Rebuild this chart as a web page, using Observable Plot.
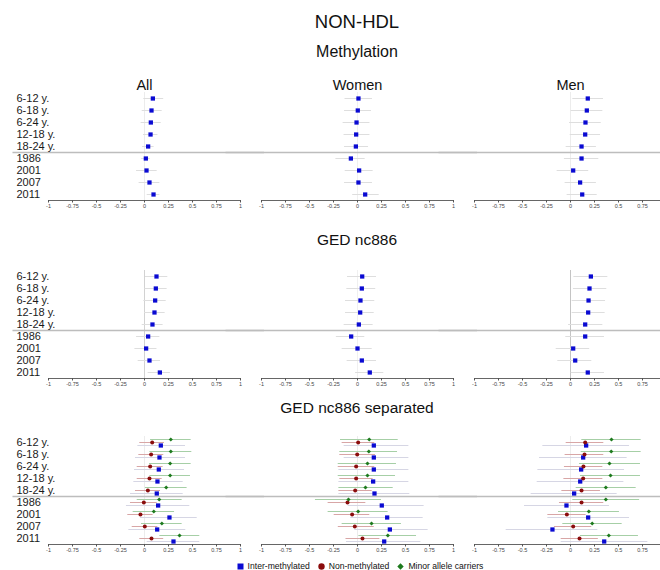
<!DOCTYPE html>
<html><head><meta charset="utf-8">
<script src="https://cdn.jsdelivr.net/npm/d3@7"></script>
<script src="https://cdn.jsdelivr.net/npm/@observablehq/plot@0.6"></script>
<style>
html,body{margin:0;padding:0;overflow:hidden;background:#fff;}
#root{position:relative;width:660px;height:570px;overflow:hidden;font-family:"Liberation Sans",Arial,sans-serif;color:#111;}
.t{position:absolute;left:48px;width:618px;text-align:center;transform:translateY(-50%);white-space:nowrap;line-height:1;}
.sec{position:absolute;left:0;}
.legend{position:absolute;left:0;width:720px;top:566px;transform:translateY(-50%);display:flex;justify-content:center;align-items:center;font-size:8.6px;color:#111;}
.legend span.item{display:flex;align-items:center;margin:0 4px;}
.legend svg{margin-right:4px;}
</style></head><body><div id="root"></div>
<script>
// ---------- data ----------
const rowLabels = ["6-12 y.","6-18 y.","6-24 y.","12-18 y.","18-24 y.","1986","2001","2007","2011"];
const panels = ["All","Women","Men"];
const xTicks = [-1,-0.75,-0.5,-0.25,0,0.25,0.5,0.75,1];
// tick labels that are visible in each panel (the Men panel is cut before 1)
const tickLabelsAll   = [-1,-0.75,-0.5,-0.25,0,0.25,0.5,0.75,1];
const tickLabelsWomen = [-1,-0.75,-0.5,-0.25,0,0.25,0.5,0.75,1];
const tickLabelsMen   = [-1,-0.75,-0.5,-0.25,0,0.25,0.5,0.75];
const seriesNames = ["Inter-methylated","Non-methylated","Minor allele carriers"];

// Methylation
const meth_all_est   = [0.087,0.073,0.066,0.063,0.038,0.014,0.021,0.052,0.094];
const meth_all_lo    = [-0.007,-0.024,-0.035,-0.010,-0.020,-0.030,-0.083,-0.056,0.028];
const meth_all_hi    = [0.200,0.184,0.174,0.140,0.100,0.060,0.132,0.160,0.160];
const meth_women_est = [0.010,0.003,-0.010,-0.014,-0.017,-0.069,0.017,0.010,0.080];
const meth_women_lo  = [-0.130,-0.135,-0.150,-0.140,-0.135,-0.225,-0.128,-0.135,-0.050];
const meth_women_hi  = [0.156,0.146,0.130,0.130,0.115,0.080,0.163,0.156,0.226];
const meth_men_est   = [0.180,0.170,0.156,0.153,0.115,0.115,0.028,0.100,0.122];
const meth_men_lo    = [0.024,0.007,-0.010,-0.003,-0.045,-0.063,-0.139,-0.056,-0.035];
const meth_men_hi    = [0.344,0.337,0.320,0.313,0.270,0.295,0.190,0.270,0.278];

// GED nc886
const ged_all_est   = [0.125,0.118,0.111,0.104,0.083,0.038,0.017,0.052,0.160];
const ged_all_lo    = [0.010,0.003,-0.007,0.000,-0.024,-0.083,-0.100,-0.066,0.038];
const ged_all_hi    = [0.243,0.236,0.226,0.215,0.194,0.160,0.130,0.167,0.270];
const ged_women_est = [0.049,0.045,0.031,0.028,0.014,-0.066,0.000,0.045,0.128];
const ged_women_lo  = [-0.104,-0.111,-0.125,-0.125,-0.139,-0.220,-0.160,-0.108,-0.020];
const ged_women_hi  = [0.198,0.190,0.180,0.174,0.163,0.076,0.153,0.198,0.274];
const ged_men_est   = [0.212,0.198,0.188,0.184,0.153,0.153,0.028,0.049,0.180];
const ged_men_lo    = [0.035,0.031,0.017,0.017,-0.020,-0.049,-0.149,-0.132,0.007];
const ged_men_hi    = [0.389,0.378,0.365,0.361,0.337,0.354,0.200,0.222,0.354];

// GED nc886 separated
const sep_all_inter_est = [0.170,0.156,0.149,0.135,0.128,0.142,0.260,0.132,0.302];
const sep_all_inter_lo  = [-0.069,-0.094,-0.104,-0.111,-0.146,-0.188,-0.042,-0.163,0.028];
const sep_all_inter_hi  = [0.427,0.427,0.417,0.403,0.403,0.472,0.549,0.430,0.576];
const sep_all_non_est   = [0.080,0.069,0.059,0.052,0.035,-0.007,-0.042,0.003,0.073];
const sep_all_non_lo    = [-0.049,-0.059,-0.076,-0.076,-0.094,-0.146,-0.174,-0.128,-0.049];
const sep_all_non_hi    = [0.208,0.201,0.194,0.184,0.167,0.132,0.090,0.139,0.200];
const sep_all_minor_est = [0.274,0.274,0.267,0.267,0.226,0.153,0.097,0.181,0.365];
const sep_all_minor_lo  = [0.063,0.056,0.052,0.056,0.010,-0.076,-0.118,-0.031,0.160];
const sep_all_minor_hi  = [0.486,0.493,0.486,0.479,0.444,0.392,0.313,0.392,0.576];

const sep_women_inter_est = [0.170,0.170,0.170,0.163,0.177,0.253,0.309,0.337,0.278];
const sep_women_inter_lo  = [-0.139,-0.139,-0.194,-0.194,-0.194,-0.097,-0.070,-0.028,-0.115];
const sep_women_inter_hi  = [0.535,0.535,0.535,0.535,0.545,0.694,0.684,0.736,0.660];
const sep_women_non_est   = [0.007,-0.003,-0.014,-0.014,-0.024,-0.104,-0.056,-0.028,0.052];
const sep_women_non_lo    = [-0.160,-0.184,-0.201,-0.184,-0.194,-0.306,-0.243,-0.200,-0.120];
const sep_women_non_hi    = [0.180,0.188,0.180,0.163,0.153,0.087,0.128,0.174,0.233];
const sep_women_minor_est = [0.122,0.118,0.104,0.104,0.083,-0.094,0.007,0.146,0.316];
const sep_women_minor_lo  = [-0.177,-0.184,-0.201,-0.201,-0.194,-0.438,-0.306,-0.160,0.014];
const sep_women_minor_hi  = [0.424,0.417,0.406,0.396,0.372,0.250,0.319,0.458,0.615];

const sep_men_inter_est = [0.163,0.132,0.111,0.101,0.038,-0.042,0.184,-0.188,0.351];
const sep_men_inter_lo  = [-0.288,-0.323,-0.340,-0.347,-0.410,-0.479,-0.236,-0.670,-0.097];
const sep_men_inter_hi  = [0.615,0.590,0.563,0.556,0.486,0.406,0.615,0.285,0.806];
const sep_men_non_est   = [0.153,0.146,0.135,0.132,0.115,0.115,-0.038,0.028,0.094];
const sep_men_non_lo    = [-0.045,-0.056,-0.063,-0.069,-0.090,-0.115,-0.236,-0.167,-0.097];
const sep_men_non_hi    = [0.347,0.347,0.337,0.337,0.312,0.347,0.163,0.222,0.290];
const sep_men_minor_est = [0.427,0.424,0.406,0.417,0.368,0.368,0.191,0.226,0.399];
const sep_men_minor_lo  = [0.118,0.111,0.094,0.104,0.059,0.024,-0.125,-0.080,0.104];
const sep_men_minor_hi  = [0.736,0.736,0.729,0.729,0.684,0.720,0.510,0.538,0.708];

// ---------- build tables ----------
function rec(panel, series, est, lo, hi) {
  return rowLabels.map((label, i) => ({panel, series, label, row: i, est: est[i], lo: lo[i], hi: hi[i]}));
}
const methRows = [
  ...rec("All", seriesNames[0], meth_all_est, meth_all_lo, meth_all_hi),
  ...rec("Women", seriesNames[0], meth_women_est, meth_women_lo, meth_women_hi),
  ...rec("Men", seriesNames[0], meth_men_est, meth_men_lo, meth_men_hi)
];
const gedRows = [
  ...rec("All", seriesNames[0], ged_all_est, ged_all_lo, ged_all_hi),
  ...rec("Women", seriesNames[0], ged_women_est, ged_women_lo, ged_women_hi),
  ...rec("Men", seriesNames[0], ged_men_est, ged_men_lo, ged_men_hi)
];
const sepRows = [
  ...rec("All", seriesNames[0], sep_all_inter_est, sep_all_inter_lo, sep_all_inter_hi),
  ...rec("All", seriesNames[1], sep_all_non_est, sep_all_non_lo, sep_all_non_hi),
  ...rec("All", seriesNames[2], sep_all_minor_est, sep_all_minor_lo, sep_all_minor_hi),
  ...rec("Women", seriesNames[0], sep_women_inter_est, sep_women_inter_lo, sep_women_inter_hi),
  ...rec("Women", seriesNames[1], sep_women_non_est, sep_women_non_lo, sep_women_non_hi),
  ...rec("Women", seriesNames[2], sep_women_minor_est, sep_women_minor_lo, sep_women_minor_hi),
  ...rec("Men", seriesNames[0], sep_men_inter_est, sep_men_inter_lo, sep_men_inter_hi),
  ...rec("Men", seriesNames[1], sep_men_non_est, sep_men_non_lo, sep_men_non_hi),
  ...rec("Men", seriesNames[2], sep_men_minor_est, sep_men_minor_lo, sep_men_minor_hi)
];
const tickLabelRows = [
  ...tickLabelsAll.map(v => ({panel: "All", v})),
  ...tickLabelsWomen.map(v => ({panel: "Women", v})),
  ...tickLabelsMen.map(v => ({panel: "Men", v}))
];

// ---------- styles ----------
const seriesStyle = {
  "Inter-methylated":      {fill: "#0a0ad2", ci: "#d6d6e4", symbol: "square",   r: 2.4, dy: 3},
  "Non-methylated":        {fill: "#8a0c0c", ci: "#d8a6a6", symbol: "circle",   r: 2.0, dy: 0},
  "Minor allele carriers": {fill: "#1d7a1d", ci: "#a6cfa6", symbol: "diamond2", r: 1.9, dy: -3}
};

const root = document.getElementById("root");
function addText(txt, y, size) {
  const d = document.createElement("div");
  d.className = "t"; d.textContent = txt;
  d.style.top = y + "px"; d.style.fontSize = size + "px";
  root.appendChild(d);
}

function section(records, {top, marginTop, headers, zeroStroke, single}) {
  const n = rowLabels.length;
  const frameH = 108, marginBottom = 18;
  const names = single ? [seriesNames[0]] : seriesNames;
  const marks = [
    Plot.ruleX(panels, {x: () => 0, fx: d => d, stroke: d => zeroStroke[d], strokeWidth: 1}),
    Plot.ruleY(panels, {y: () => rowLabels.indexOf("1986") - 0.5, fx: d => d, x1: -1.37, x2: 1.25, stroke: "#bdbdbd", strokeWidth: 1.6}),
    Plot.ruleY(panels, {y: () => n - 0.5, fx: d => d, stroke: "#666", strokeWidth: 1}),
    Plot.axisX({ticks: xTicks, tickSize: 2.5, tickFormat: () => "", stroke: "#555", label: null}),
    Plot.text(tickLabelRows, {x: "v", fx: "panel", text: d => String(d.v), frameAnchor: "bottom", dy: 7.5, fontSize: 5.5, fill: "#444"})
  ];
  for (const s of names) {
    const st = seriesStyle[s];
    const data = records.filter(r => r.series === s);
    marks.push(Plot.ruleY(data, {y: "row", x1: "lo", x2: "hi", fx: "panel", stroke: single ? "#dedede" : st.ci, strokeWidth: 1, dy: single ? 0 : st.dy}));
  }
  for (const s of names) {
    const st = seriesStyle[s];
    const data = records.filter(r => r.series === s);
    marks.push(Plot.dot(data, {x: "est", y: "row", fx: "panel", symbol: st.symbol, r: st.r, fill: st.fill, stroke: "none", dy: single ? 0 : st.dy}));
  }
  marks.push(Plot.text(rowLabels.map((label, i) => ({label, row: i, panel: "All"})),
    {y: "row", fx: "panel", text: "label", frameAnchor: "left", textAnchor: "start", dx: -32, fontSize: 11, fill: "#1a1a1a"}));
  if (headers) {
    marks.push(Plot.text(panels, {fx: d => d, text: d => d, frameAnchor: "top", dy: -13, fontSize: 14.5, fill: "#111"}));
  }
  const chart = Plot.plot({
    width: 666, height: marginTop + frameH + marginBottom,
    marginLeft: 48, marginRight: 0, marginTop, marginBottom,
    fx: {domain: panels, paddingInner: 0.0986, paddingOuter: 0, axis: null, label: null},
    x: {domain: [-1, 1], axis: null},
    y: {domain: [-0.5, n - 0.5], reverse: true, axis: null},
    color: {type: "identity"},
    style: {fontSize: "5.5px", fontFamily: "'Liberation Sans', Arial, sans-serif", color: "#444", background: "transparent", maxWidth: "none", overflow: "visible"},
    marks
  });
  const wrap = document.createElement("div");
  wrap.className = "sec"; wrap.style.top = top + "px";
  wrap.appendChild(chart);
  root.appendChild(wrap);
}

addText("NON-HDL", 22, 18.5);
addText("Methylation", 52, 16);
section(methRows, {top: 60, marginTop: 32, headers: true, single: true, zeroStroke: {All: "#ececec", Women: "#f0f0f0", Men: "#ececec"}});
addText("GED nc886", 240, 15.5);
section(gedRows, {top: 262, marginTop: 8, headers: false, single: true, zeroStroke: {All: "#d2d2d2", Women: "#f0f0f0", Men: "#c4c4c4"}});
addText("GED nc886 separated", 408, 15.5);
section(sepRows, {top: 428, marginTop: 8, headers: false, single: false, zeroStroke: {All: "#ececec", Women: "#ececec", Men: "#ececec"}});

// legend
const leg = document.createElement("div");
leg.className = "legend";
const shapes = {
  square: '<rect x="0.5" y="0.5" width="6" height="6"/>',
  circle: '<circle cx="3.5" cy="3.5" r="3.2"/>',
  diamond2: '<path d="M3.5,0.3 L6.7,3.5 L3.5,6.7 L0.3,3.5Z"/>'
};
for (const s of seriesNames) {
  const st = seriesStyle[s];
  const item = document.createElement("span");
  item.className = "item";
  item.innerHTML = `<svg width="7" height="7" fill="${st.fill}">${shapes[st.symbol]}</svg>${s}`;
  leg.appendChild(item);
}
root.appendChild(leg);
</script></body></html>
